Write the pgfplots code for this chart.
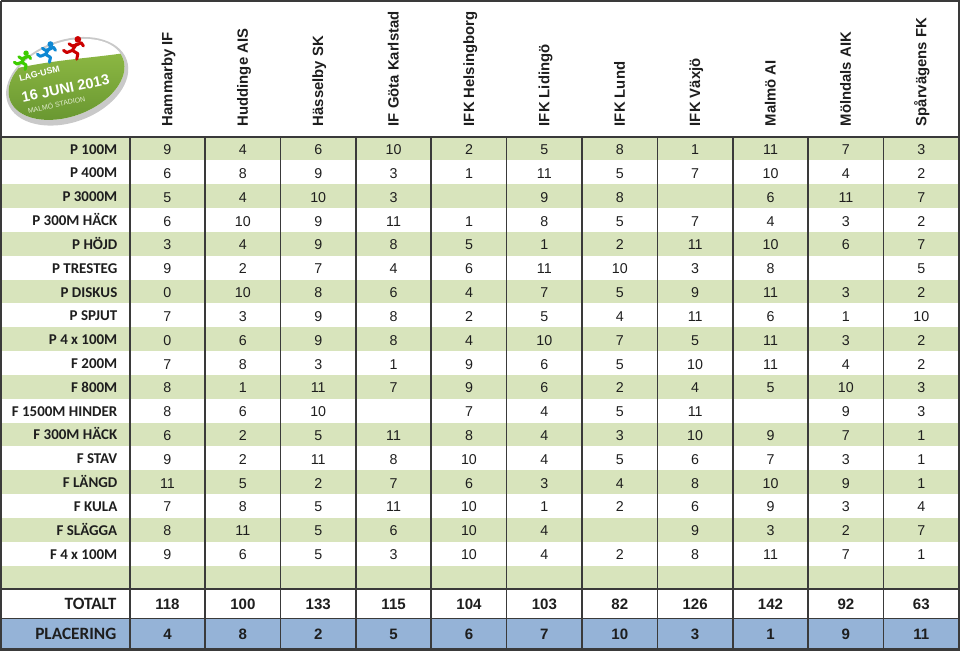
\documentclass[border=0pt]{standalone}
\usepackage{fontspec}
\setmainfont{Liberation Sans}
\newfontfamily\calibri{Carlito}
\usepackage{pgfplots}
\usepackage{pgfplotstable}
\pgfplotsset{compat=1.18}

\definecolor{stripe}{HTML}{D8E4BC}
\definecolor{placering}{HTML}{95B3D7}
\definecolor{rule}{HTML}{3A3A3A}
\definecolor{ink}{HTML}{1E1E1E}
\definecolor{logorim}{HTML}{C9C9C9}
\definecolor{greentop}{HTML}{8DB843}
\definecolor{greenbot}{HTML}{5F8E2C}

% points per event and team (blank = no result)
\pgfplotstableread{
row c1 c2 c3 c4 c5 c6 c7 c8 c9 c10 c11
1  9 4 6 10 2 5 8 1 11 7 3
2  6 8 9 3 1 11 5 7 10 4 2
3  5 4 10 3 {} 9 8 {} 6 11 7
4  6 10 9 11 1 8 5 7 4 3 2
5  3 4 9 8 5 1 2 11 10 6 7
6  9 2 7 4 6 11 10 3 8 {} 5
7  0 10 8 6 4 7 5 9 11 3 2
8  7 3 9 8 2 5 4 11 6 1 10
9  0 6 9 8 4 10 7 5 11 3 2
10 7 8 3 1 9 6 5 10 11 4 2
11 8 1 11 7 9 6 2 4 5 10 3
12 8 6 10 {} 7 4 5 11 {} 9 3
13 6 2 5 11 8 4 3 10 9 7 1
14 9 2 11 8 10 4 5 6 7 3 1
15 11 5 2 7 6 3 4 8 10 9 1
16 7 8 5 11 10 1 2 6 9 3 4
17 8 11 5 6 10 4 {} 9 3 2 7
18 9 6 5 3 10 4 2 8 11 7 1
}\scores

\pgfplotstableread[col sep=comma]{
row,name
1,P 100M
2,P 400M
3,P 3000M
4,P 300M HÄCK
5,P HÖJD
6,P TRESTEG
7,P DISKUS
8,P SPJUT
9,P 4 x 100M
10,F 200M
11,F 800M
12,F 1500M HINDER
13,F 300M HÄCK
14,F STAV
15,F LÄNGD
16,F KULA
17,F SLÄGGA
18,F 4 x 100M
}\events

\pgfplotstableread[col sep=comma]{
c,name,tot,pl
1,Hammarby IF,118,4
2,Huddinge AIS,100,8
3,Hässelby SK,133,2
4,IF Göta Karlstad,115,5
5,IFK Helsingborg,104,6
6,IFK Lidingö,103,7
7,IFK Lund,82,10
8,IFK Växjö,126,3
9,Malmö AI,142,1
10,Mölndals AIK,92,9
11,Spårvägens FK,63,11
}\teams

\pgfplotstableread[col sep=comma]{
y,name
608,TOTALT
637.5,PLACERING
}\sumrows

\pgfplotsset{
  cell/.style={only marks, mark=text, text mark={},
    nodes near coords, point meta=explicit symbolic},
}

\newcommand\runner[4]{%
  \begin{scope}[shift={(#2,#3)}, scale=#4, line cap=round, line join=round]
    \fill[#1] (3,9) circle (3);
    \draw[#1, line width=1.5bp] (2,5) -- (-2,-1)
      (2,4) -- (6,6) -- (8,3)
      (2,4) -- (-2,3) -- (-5,5)
      (-2,-1) -- (3,-4) -- (2,-9)
      (-2,-1) -- (-7,-3) -- (-10,-1);
  \end{scope}}

\begin{document}
\begin{tikzpicture}
\begin{axis}[
    scale only axis,
    width=480bp, height=325.5bp,
    xmin=0, xmax=960, ymin=0, ymax=651,
    y dir=reverse,
    hide axis,
    clip=false,
]
% row shading
\addplot[fill=stripe, draw=none] coordinates {(3,137) (957,137) (957,160.74) (3,160.74)};
\addplot[fill=stripe, draw=none] coordinates {(3,184.47) (957,184.47) (957,208.21) (3,208.21)};
\addplot[fill=stripe, draw=none] coordinates {(3,231.95) (957,231.95) (957,255.68) (3,255.68)};
\addplot[fill=stripe, draw=none] coordinates {(3,279.42) (957,279.42) (957,303.16) (3,303.16)};
\addplot[fill=stripe, draw=none] coordinates {(3,326.89) (957,326.89) (957,350.63) (3,350.63)};
\addplot[fill=stripe, draw=none] coordinates {(3,374.37) (957,374.37) (957,398.11) (3,398.11)};
\addplot[fill=stripe, draw=none] coordinates {(3,421.84) (957,421.84) (957,445.58) (3,445.58)};
\addplot[fill=stripe, draw=none] coordinates {(3,469.32) (957,469.32) (957,493.05) (3,493.05)};
\addplot[fill=stripe, draw=none] coordinates {(3,516.79) (957,516.79) (957,540.53) (3,540.53)};
\addplot[fill=stripe, draw=none] coordinates {(3,564.26) (957,564.26) (957,588) (3,588)};
\addplot[fill=placering, draw=none] coordinates {(3,617) (957,617) (957,647) (3,647)};

% rules
\pgfplotsinvokeforeach{0,...,10}{
  \addplot[draw=rule, line width=0.8bp] coordinates {({131+75.1*#1},137) ({131+75.1*#1},647)};
}
\addplot[draw=rule, line width=0.9bp] coordinates {(3,137) (957,137)};
\addplot[draw=rule, line width=0.9bp] coordinates {(3,588) (957,588)};
\addplot[draw=rule, line width=0.9bp] coordinates {(3,617) (957,617)};
\addplot[draw=rule, line width=1.1bp] coordinates {(3,2) (957,2) (957,648) (3,648) (3,2)};

% team names
\addplot[cell, nodes near coords style={rotate=90, anchor=base west, inner sep=0pt,
    text=ink, font=\bfseries\fontsize{7.4bp}{8bp}\selectfont}]
  table[x expr={131+75.1*(\thisrow{c}-0.5)+5}, y expr=127, meta=name] {\teams};

% event names
\addplot[cell, nodes near coords style={anchor=base east, inner sep=0pt,
    text=ink, font=\calibri\bfseries\fontsize{7.45bp}{8bp}\selectfont}]
  table[x expr=119, y expr={137+23.737*(\thisrow{row}-0.5)+5.5}, meta=name] {\events};

% points
\pgfplotsinvokeforeach{1,...,11}{
  \addplot[cell, nodes near coords style={anchor=base, inner sep=0pt,
      text=ink, font=\fontsize{7.1bp}{8bp}\selectfont}]
    table[x expr={131+75.1*(#1-0.5)}, y expr={137+23.737*(\thisrow{row}-0.5)+6}, meta=c#1] {\scores};
}

% totals and placing
\addplot[cell, nodes near coords style={anchor=base east, inner sep=0pt,
    text=ink, font=\calibri\bfseries\fontsize{8.6bp}{9bp}\selectfont}]
  table[x expr=118, y=y, meta=name] {\sumrows};
\addplot[cell, nodes near coords style={anchor=base, inner sep=0pt,
    text=ink, font=\bfseries\fontsize{7.5bp}{8bp}\selectfont}]
  table[x expr={131+75.1*(\thisrow{c}-0.5)}, y expr=608, meta=tot] {\teams};
\addplot[cell, nodes near coords style={anchor=base, inner sep=0pt,
    text=ink, font=\bfseries\fontsize{7.5bp}{8bp}\selectfont}]
  table[x expr={131+75.1*(\thisrow{c}-0.5)}, y expr=637.5, meta=pl] {\teams};

\coordinate (logo) at (axis cs:68,80);
\end{axis}

% event logo
\begin{scope}[shift={(logo)}, x=0.5bp, y=0.5bp]
  \fill[logorim, rotate=20] (0,-2) ellipse [x radius=63, y radius=41];
  \fill[white, rotate=20] (0,0) ellipse [x radius=60, y radius=37];
  \begin{scope}
    \clip[rotate=20] (0,0) ellipse [x radius=60, y radius=37];
    \shade[top color=greentop, bottom color=greenbot]
      (-70,6) .. controls (-20,20) and (20,20) .. (70,28) -- (70,-60) -- (-70,-60) -- cycle;
  \end{scope}
  \runner{green!60!lime!80!black}{-43}{18}{0.9}
  \runner{cyan!70!blue}{-19}{26}{1.0}
  \runner{red!80!black}{8}{30}{1.1}
  \node[rotate=14, text=white, inner sep=0pt, font=\bfseries\fontsize{4.4bp}{5bp}\selectfont]
    at (-27,6) {LAG-USM};
  \node[rotate=12, text=white, inner sep=0pt, font=\bfseries\fontsize{7.2bp}{8bp}\selectfont]
    at (-1,-9) {16 JUNI 2013};
  \node[rotate=12, text=white!75!greentop, inner sep=0pt, font=\fontsize{3.5bp}{4bp}\selectfont]
    at (-10,-25) {MALMÖ STADION};
\end{scope}
\end{tikzpicture}
\end{document}
